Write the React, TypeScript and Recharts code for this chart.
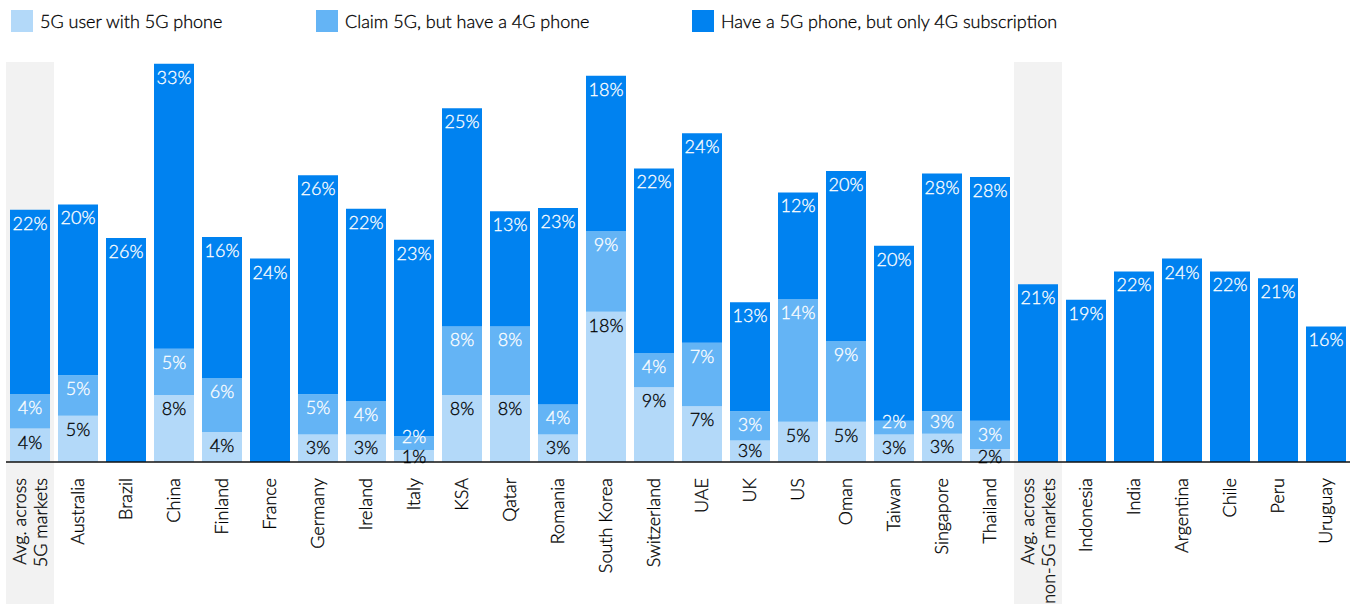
import React from "react";
import {
  BarChart,
  Bar,
  XAxis,
  YAxis,
  ReferenceArea,
  LabelList,
} from "recharts";

const categories = [
  "Avg. across\n5G markets",
  "Australia",
  "Brazil",
  "China",
  "Finland",
  "France",
  "Germany",
  "Ireland",
  "Italy",
  "KSA",
  "Qatar",
  "Romania",
  "South Korea",
  "Switzerland",
  "UAE",
  "UK",
  "US",
  "Oman",
  "Taiwan",
  "Singapore",
  "Thailand",
  "Avg. across\nnon-5G markets",
  "Indonesia",
  "India",
  "Argentina",
  "Chile",
  "Peru",
  "Uruguay",
];

// 5G user with 5G phone
const fullUsers = [
  3.9, 5.4, null, 7.8, 3.5, null, 3.2, 3.2, 1.4, 7.8, 7.8, 3.2, 17.5, 8.7,
  6.5, 2.5, 4.7, 4.7, 3.2, 3.3, 1.5, null, null, null, null, null, null, null,
];

// Claim 5G, but have a 4G phone
const claimers = [
  4.0, 4.7, null, 5.4, 6.3, null, 4.7, 3.9, 1.6, 8.0, 8.0, 3.5, 9.4, 4.0,
  7.4, 3.4, 14.3, 9.4, 1.6, 2.6, 3.3, null, null, null, null, null, null, null,
];

// Have a 5G phone, but only 4G subscription
const phoneOnly = [
  21.5, 19.9, 26.1, 33.2, 16.4, 23.7, 25.5, 22.4, 22.9, 25.4, 13.4, 22.9,
  18.1, 21.5, 24.4, 12.7, 12.4, 19.8, 20.4, 27.7, 28.4, 20.7, 18.9, 22.2,
  23.7, 22.2, 21.4, 15.8,
];

const seriesNames = [
  "5G user with 5G phone",
  "Claim 5G, but have a 4G phone",
  "Have a 5G phone, but only 4G subscription",
];

const COLORS = ["#b3d9f9", "#64b4f5", "#0082f0"];
const FONT = "Lato, 'Noto Sans', sans-serif";
const WEIGHT = 300;

const data = categories.map((name, i) => ({
  name,
  a: fullUsers[i],
  b: claimers[i],
  c: phoneOnly[i],
}));

function SegmentLabel(props: any) {
  const { x, y, width, height, value, fill, bottom } = props;
  if (value === null || value === undefined) return null;
  // thin segments: bottom one centres its label, upper one pushes it up
  let off = Math.min(13, height * 0.45);
  if (height < 16) off = bottom ? height / 2 : 0;
  return (
    <text
      x={x + width / 2}
      y={y + off}
      textAnchor="middle"
      dominantBaseline="central"
      fill={fill}
      fontSize={18}
      fontWeight={WEIGHT}
      fontFamily={FONT}
      stroke={fill}
      strokeWidth={0.3}
    >
      {Math.round(value)}%
    </text>
  );
}

function CategoryTick(props: any) {
  const { x, y, payload } = props;
  const lines = String(payload.value).split("\n");
  const lh = 21;
  return (
    <g transform={`translate(${x},${y + 8})`}>
      <text
        transform="rotate(-90)"
        textAnchor="end"
        fill="#000"
        fontSize={18}
        fontWeight={WEIGHT}
        fontFamily={FONT}
        stroke="#000"
        strokeWidth={0.3}
      >
        {lines.map((l, i) => (
          <tspan
            key={i}
            x={0}
            y={(i - (lines.length - 1) / 2) * lh}
            dy="0.35em"
          >
            {l}
          </tspan>
        ))}
      </text>
    </g>
  );
}

export default function App() {
  return (
    <div
      style={{
        position: "absolute",
        left: 0,
        top: 0,
        width: 1352,
        height: 604,
        background: "#fff",
        fontFamily: FONT,
      }}
    >
      <div style={{ position: "absolute", top: 10, left: 0, width: 1352 }}>
        {seriesNames.map((s, i) => (
          <div
            key={s}
            style={{
              position: "absolute",
              left: [11, 316, 692][i],
              top: 0,
              display: "flex",
              alignItems: "center",
              whiteSpace: "nowrap",
              fontSize: 18,
              fontWeight: WEIGHT,
              color: "#000",
              WebkitTextStroke: "0.3px #000",
            }}
          >
            <span
              style={{
                width: 22,
                height: 22,
                background: COLORS[i],
                display: "inline-block",
                marginRight: 7,
              }}
            />
            {s}
          </div>
        ))}
      </div>

      <BarChart
        width={1352}
        height={604}
        data={data}
        margin={{ top: 62, right: 2, bottom: 0, left: 6 }}
        barSize={40}
      >
        <XAxis
          dataKey="name"
          interval={0}
          height={142}
          tickLine={false}
          axisLine={{ stroke: "#111", strokeWidth: 1.5 }}
          tick={<CategoryTick />}
        />
        <YAxis hide domain={[0, 46.6]} />
        <ReferenceArea
          x1={categories[0]}
          x2={categories[0]}
          y1={-16.6}
          y2={46.6}
          fill="#f2f2f2"
          fillOpacity={1}
          ifOverflow="visible"
        />
        <ReferenceArea
          x1={categories[21]}
          x2={categories[21]}
          y1={-16.6}
          y2={46.6}
          fill="#f2f2f2"
          fillOpacity={1}
          ifOverflow="visible"
        />
        <Bar
          dataKey="a"
          name={seriesNames[0]}
          stackId="s"
          fill={COLORS[0]}
          isAnimationActive={false}
        >
          <LabelList
            dataKey="a"
            content={(p: any) => <SegmentLabel {...p} fill="#000" bottom />}
          />
        </Bar>
        <Bar
          dataKey="b"
          name={seriesNames[1]}
          stackId="s"
          fill={COLORS[1]}
          isAnimationActive={false}
        >
          <LabelList
            dataKey="b"
            content={(p: any) => <SegmentLabel {...p} fill="#fff" />}
          />
        </Bar>
        <Bar
          dataKey="c"
          name={seriesNames[2]}
          stackId="s"
          fill={COLORS[2]}
          isAnimationActive={false}
        >
          <LabelList
            dataKey="c"
            content={(p: any) => <SegmentLabel {...p} fill="#fff" />}
          />
        </Bar>
      </BarChart>
    </div>
  );
}
